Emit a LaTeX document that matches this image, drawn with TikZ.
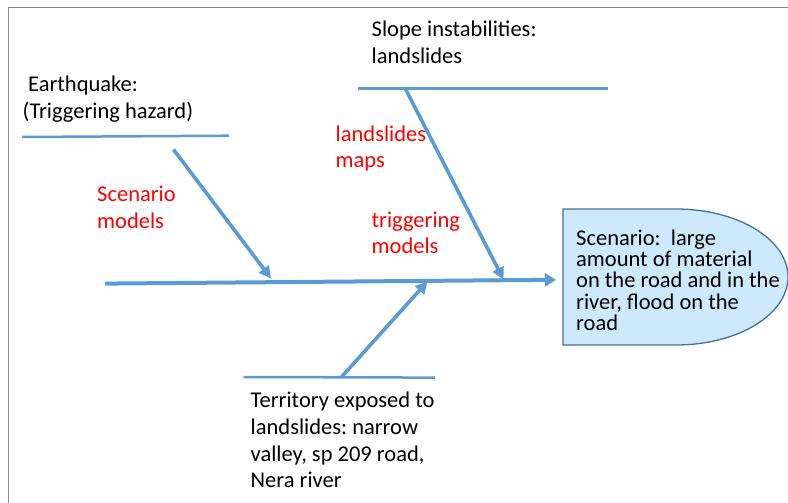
\documentclass[tikz,border=0pt]{standalone}
\usepackage{fontspec}
\setmainfont{Carlito}
\usetikzlibrary{arrows.meta}
\frenchspacing
\definecolor{boneblue}{HTML}{5B9BD5}
\definecolor{boxfill}{HTML}{CDE9FB}
\definecolor{boxline}{HTML}{41719C}
\definecolor{framegray}{HTML}{8A8A8A}
\definecolor{redtxt}{HTML}{FF0000}
\tikzset{
  bone/.style={draw=boneblue, line width=2.5pt},
  rib/.style={draw=boneblue, line width=3.6pt, -{Triangle[length=12pt,width=12pt]}},
  spine/.style={draw=boneblue, line width=4pt, -{Triangle[length=11pt,width=13pt]}},
  blacktxt/.style={anchor=base west, inner sep=0pt, align=left, text=black,
    font=\fontsize{22.5}{26.7}\selectfont},
  redlabel/.style={blacktxt, text=redtxt},
  boxtxt/.style={anchor=base west, inner sep=0pt, align=left, text=black,
    font=\fontsize{22.5}{21.4}\selectfont},
  shapebox/.style={draw=boxline, fill=boxfill, line width=1.3pt},
  frame/.style={draw=framegray, line width=1pt}
}
\begin{document}
\begin{tikzpicture}[x=1pt,y=-1pt]
\useasboundingbox (0,0) rectangle (788,503);
% frame
\draw[frame] (8,503) -- (8,8) -- (788,8);
% result box (delay shape)
\draw[shapebox] (563,209) -- (676,209)
  arc[start angle=90,end angle=-90,x radius=112pt,y radius=68pt] -- (563,345) -- cycle;
% texts (anchored at the baseline of the last line)
\node[boxtxt] (scen) at (576,330.7) {Scenario:\ \ large\\amount of material\\on the road and in the\\river, flood on the\\road};
\node[blacktxt] (eq) at (22.5,118.3) {\hspace*{5.5pt}Earthquake:\\(Triggering hazard)};
\node[blacktxt] (slope) at (371.5,63.3) {Slope instabilities:\\landslides};
\node[blacktxt] (terr) at (250.5,487.7) {Territory exposed to\\landslides: narrow\\valley, sp 209 road,\\Nera river};
\node[redlabel] (scm) at (97,228.3) {Scenario\\models};
\node[redlabel, font=\fontsize{22.5}{25.5}\selectfont] (lsm) at (335.5,167) {landslides\\maps};
\node[redlabel, font=\fontsize{22.5}{25.5}\selectfont] (trm) at (371.5,253) {triggering\\models};
% bone lines
\coordinate (eqL) at (22,137);
\coordinate (eqR) at (229,135.7);
\coordinate (slL) at (358,88.7);
\coordinate (slR) at (608,88.7);
\coordinate (teL) at (243.5,377);
\coordinate (teR) at (435,377.6);
\draw[bone] (eqL) -- (eqR);
\draw[bone] (slL) -- (slR);
\draw[bone] (teL) -- (teR);
% spine
\coordinate (spL) at (105,283.6);
\coordinate (spR) at (556,279.8);
\draw[spine] (spL) -- (spR);
% ribs
\coordinate (r1s) at (173.5,149.5);
\coordinate (r1e) at (271,278.5);
\coordinate (r2s) at (405.5,89);
\coordinate (r2e) at (503.5,279.5);
\coordinate (r3s) at (341.5,377);
\coordinate (r3e) at (427.5,281.5);
\draw[rib] (r1s) -- (r1e);
\draw[rib] (r2s) -- (r2e);
\draw[rib] (r3s) -- (r3e);
\end{tikzpicture}
\end{document}
